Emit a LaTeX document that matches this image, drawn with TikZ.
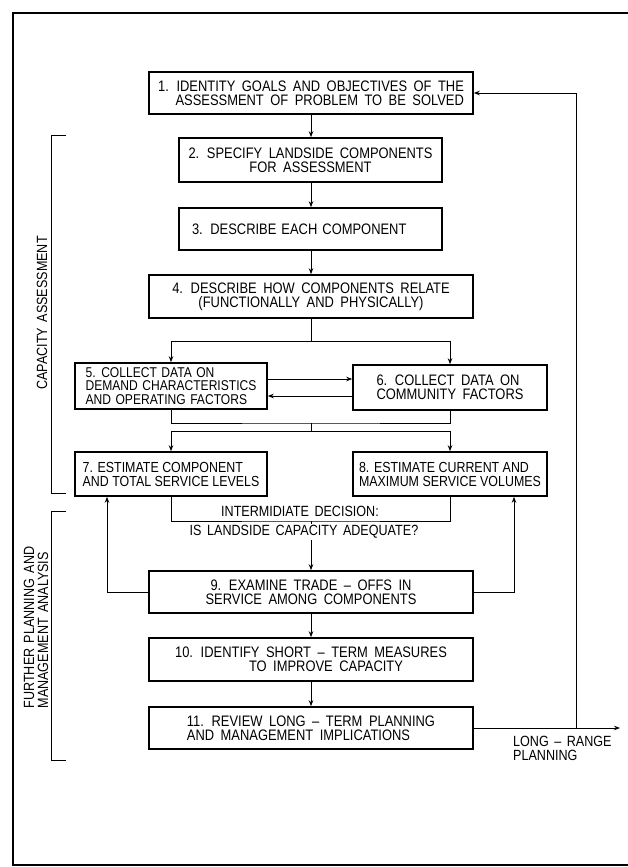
\documentclass[tikz,border=0pt]{standalone}
\usepackage{fontspec}
\setmainfont{Liberation Sans}[FakeStretch=0.85]
\usetikzlibrary{arrows.meta}

\newcommand\boxfont{\fontsize{15.2}{14}\selectfont\spaceskip 6.5pt\relax}
\newcommand\tightfont{\fontsize{14.2}{13.2}\selectfont\spaceskip 4.5pt\relax}
\newcommand\narrowfont{\fontsize{14.6}{14}\selectfont}
\newcommand\notefont{\fontsize{14.8}{14}\selectfont\spaceskip 5.5pt\relax}

\begin{document}
\begin{tikzpicture}[x=1pt, y=-1pt,
        stepbox/.style={draw, rectangle, line width=1.6pt, inner sep=2pt, align=center,
            font=\boxfont},
        link/.style={line width=0.9pt},
        arr/.style={link, -{Stealth[length=6pt, width=4.5pt]}},
        note/.style={font=\notefont, inner sep=1pt}
    ]
    \useasboundingbox (0,0) rectangle (628,867);

    % outer frame
    \draw[line width=1.3pt] (628,13) -| (13,865) -- (628,865);

    % steps
    \node[stepbox, minimum width=324pt, minimum height=42pt, align=right] (b1) at (311,93)
        {1. IDENTITY GOALS AND OBJECTIVES OF THE\\ASSESSMENT OF PROBLEM TO BE SOLVED};
    \node[stepbox, minimum width=263pt, minimum height=44pt] (b2) at (310.5,160)
        {2. SPECIFY LANDSIDE COMPONENTS\\FOR ASSESSMENT};
    \node[stepbox, minimum width=263pt, minimum height=42pt, text width=237pt, inner xsep=13pt, align=left] (b3) at (310.5,229)
        {3. DESCRIBE EACH COMPONENT};
    \node[stepbox, minimum width=324pt, minimum height=43pt] (b4) at (311,296.5)
        {4. DESCRIBE HOW COMPONENTS RELATE\\(FUNCTIONALLY AND PHYSICALLY)};
    \node[stepbox, minimum width=192pt, minimum height=46pt, align=left, inner ysep=1pt, font=\tightfont] (b5) at (171,386)
        {5. COLLECT DATA ON\\DEMAND CHARACTERISTICS\\AND OPERATING FACTORS};
    \node[stepbox, minimum width=194pt, minimum height=45pt, align=left] (b6) at (450,387.5)
        {6. COLLECT DATA ON\\COMMUNITY FACTORS};
    \node[stepbox, minimum width=192pt, minimum height=44pt, align=left, font=\narrowfont] (b7) at (171,474)
        {7. ESTIMATE COMPONENT\\AND TOTAL SERVICE LEVELS};
    \node[stepbox, minimum width=194pt, minimum height=44pt, align=left, inner xsep=1pt,
        font=\narrowfont] (b8) at (450,474)
        {8. ESTIMATE CURRENT AND\\MAXIMUM SERVICE VOLUMES};
    \node[stepbox, minimum width=324pt, minimum height=42pt] (b9) at (311,592)
        {9. EXAMINE TRADE -- OFFS IN\\SERVICE AMONG COMPONENTS};
    \node[stepbox, minimum width=324pt, minimum height=43pt] (b10) at (311,659.5)
        {10. IDENTIFY SHORT -- TERM MEASURES\\\hspace*{30pt}TO IMPROVE CAPACITY};
    \node[stepbox, minimum width=324pt, minimum height=42pt, align=left] (b11) at (311,728)
        {11. REVIEW LONG -- TERM PLANNING\\AND MANAGEMENT IMPLICATIONS};

    % decision text
    \node[note] (deca) at (300,511) {INTERMIDIATE DECISION:};
    \node[note, fill=white] (decb) at (304,532) {IS LANDSIDE CAPACITY ADEQUATE?};
    \node[note, anchor=north west, align=left] (lrtext) at (512,735) {LONG -- RANGE\\PLANNING};

    % junctions
    \coordinate (split) at (311,341);
    \coordinate (join) at (311,423);
    \coordinate (fork) at (311,431);
    \coordinate (dec) at (311,521);
    \coordinate (lrend) at (620,728);
    \coordinate (loop) at (576,728);

    % main flow
    \draw[arr] (b1.south) -- (b1.south |- b2.north);
    \draw[arr] (b1.south |- b2.south) -- (b1.south |- b3.north);
    \draw[arr] (b1.south |- b3.south) -- (b1.south |- b4.north);
    \draw[link] (b4.south) -- (split);
    \draw[arr] (split) -| (b5.north);
    \draw[arr] (split) -| (b6.north);
    \draw[arr] ([yshift=7pt]b5.east) -- ([yshift=7pt]b5.east -| b6.west);
    \draw[arr] ([yshift=-10pt]b5.east -| b6.west) -- ([yshift=-10pt]b5.east);
    \draw[link] (b5.south) |- (join) -| (b6.south);
    \draw[link] (join) -- (fork);
    \draw[arr] (fork) -| (b7.north);
    \draw[arr] (fork) -| (b8.north);
    \draw[link] (b7.south) |- (dec) -| (b8.south);
    \draw[link] (dec) -- (dec |- decb.north);
    \draw[arr] (dec |- decb.south) -- (dec |- b9.north);
    \draw[arr] (b9.west) -| ([xshift=-64pt]b7.south);
    \draw[arr] (b9.east) -| ([xshift=64pt]b8.south);
    \draw[arr] (b9.south) -- (b9.south |- b10.north);
    \draw[arr] (b10.south) -- (b10.south |- b11.north);
    \draw[arr] (b11.east) -- (lrend);
    \draw[arr] (loop) |- (b1.east);

    % side brackets
    \draw[link] (66,135) -- (51,135) -- (51,493) -- (66,493);
    \draw[link] (66,511) -- (51,511) -- (51,760) -- (66,760);
    \node[note, rotate=90] (capa) at (42,313) {CAPACITY ASSESSMENT};
    \node[note, rotate=90, align=left] (further) at (36,627.5) {FURTHER PLANNING AND\\MANAGEMENT ANALYSIS};
\end{tikzpicture}
\end{document}
